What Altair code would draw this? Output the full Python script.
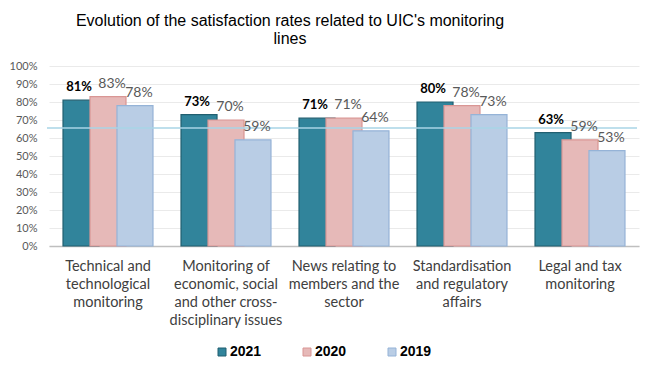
import altair as alt
import pandas as pd

categories = [
    "Technical and\ntechnological\nmonitoring",
    "Monitoring of\neconomic, social\nand other cross-\ndisciplinary issues",
    "News relating to\nmembers and the\nsector",
    "Standardisation\nand regulatory\naffairs",
    "Legal and tax\nmonitoring",
]
years = ["2021", "2020", "2019"]
values_2021 = [0.81, 0.73, 0.71, 0.80, 0.63]
values_2020 = [0.83, 0.70, 0.71, 0.78, 0.59]
values_2019 = [0.78, 0.59, 0.64, 0.73, 0.53]
reference_line = [0.656]
y_ticks = [0.0, 0.1, 0.2, 0.3, 0.4, 0.5, 0.6, 0.7, 0.8, 0.9, 1.0]

fill_colors = ["#31849B", "#E6B9B8", "#B9CDE5"]
stroke_colors = ["#215F70", "#D99694", "#95B3D7"]

rows = []
for yr, vals in zip(years, [values_2021, values_2020, values_2019]):
    for c, v in zip(categories, vals):
        rows.append({"category": c, "year": yr, "value": v})
df = pd.DataFrame(rows)

x_scale = alt.Scale(paddingInner=0.314, paddingOuter=0.157)
off_scale = alt.Scale(domain=years, paddingInner=0, paddingOuter=0)
y_axis = alt.Axis(values=y_ticks, format=".0%", title=None)
x_axis = alt.Axis(labelAngle=0, labelExpr="split(datum.label, '\\n')", title=None)


def xenc():
    return alt.X("category:N", sort=categories, scale=x_scale, axis=x_axis)


def offenc():
    return alt.XOffset("year:N", sort=years, scale=off_scale)


def yenc(field):
    return alt.Y(field, scale=alt.Scale(domain=[0, 1]), axis=y_axis)


bars = alt.Chart(df).mark_bar(width=36, strokeWidth=1.2).encode(
    x=xenc(),
    xOffset=offenc(),
    y=yenc("value:Q"),
    color=alt.Color(
        "year:N",
        sort=years,
        scale=alt.Scale(domain=years, range=fill_colors),
        legend=alt.Legend(
            title=None,
            orient="none",
            direction="horizontal",
            legendX=166,
            legendY=279,
            symbolType="square",
            symbolSize=64,
            symbolStrokeWidth=1,
            labelFont="Liberation Sans",
            labelFontSize=14,
            labelFontWeight="bold",
            labelColor="#000000",
            labelOffset=1,
            columnPadding=38,
        ),
    ),
    stroke=alt.Stroke(
        "year:N",
        sort=years,
        scale=alt.Scale(domain=years, range=stroke_colors),
        legend=None,
    ),
)

labels_2021 = alt.Chart(df[df["year"] == "2021"]).mark_text(
    baseline="bottom", dy=-6, dx=-2, font="Lato", fontSize=13, fontWeight="bold", color="#000000"
).encode(
    x=xenc(),
    xOffset=offenc(),
    y=yenc("value:Q"),
    text=alt.Text("value:Q", format=".0%"),
)
labels_other = alt.Chart(df[df["year"] != "2021"]).mark_text(
    baseline="bottom", dy=-6, dx=4, font="Lato", fontSize=14, color="#595959"
).encode(
    x=xenc(),
    xOffset=offenc(),
    y=yenc("value:Q"),
    text=alt.Text("value:Q", format=".0%"),
)

ref = alt.Chart(pd.DataFrame({"v": reference_line})).mark_rule(
    color="#A8D4E6", strokeWidth=1.5
).encode(y=yenc("v:Q"), x=alt.value(-2), x2=alt.value(588))

chart = alt.layer(bars, ref, labels_2021, labels_other).properties(
    width=590,
    height=180,
    padding={"left": 41, "top": 58, "right": 8, "bottom": 119},
    autosize=alt.AutoSizeParams(type="none"),
    background="white",
    title=alt.TitleParams(
        text=["Evolution of the satisfaction rates related to UIC's monitoring", "lines"],
        font="Liberation Sans",
        fontSize=16,
        fontWeight="normal",
        color="#000000",
        lineHeight=18,
        anchor="middle",
        dx=-54,
        offset=13,
    ),
).configure_view(
    stroke=None
).configure_axisX(
    labelFont="Lato",
    labelFontSize=14.5,
    labelColor="#404040",
    labelLineHeight=18,
    labelPadding=13,
    labelBaseline="top",
    ticks=False,
    domainColor="#BFBFBF",
    domainWidth=1.5,
    grid=False,
    labelLimit=0,
).configure_axisY(
    labelFont="Lato",
    labelFontSize=11,
    labelColor="#595959",
    labelPadding=12,
    ticks=False,
    domain=False,
    gridColor="#EAEAEA",
    gridWidth=1,
    labelOverlap=False,
)

chart.save("out.html", embed_options={"renderer": "svg", "actions": False})
